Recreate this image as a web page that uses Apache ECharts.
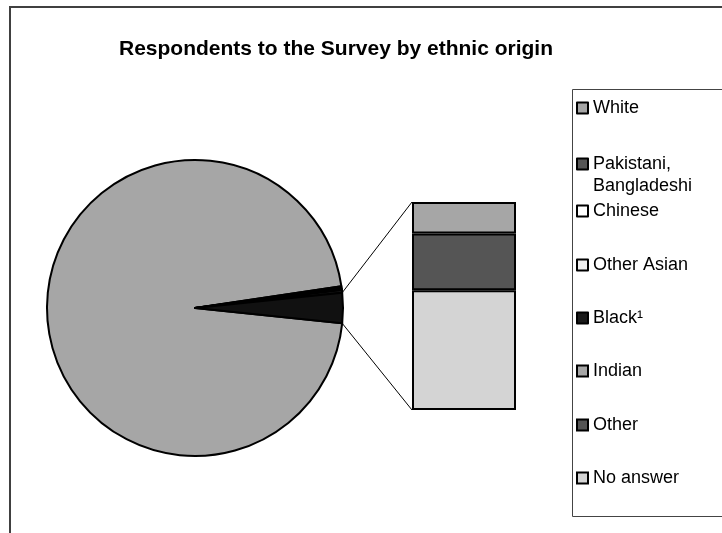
<!DOCTYPE html>
<html><head><meta charset="utf-8">
<script src="https://cdn.jsdelivr.net/npm/echarts@6/dist/echarts.min.js"></script>
<style>html,body{margin:0;padding:0;background:#fff}#c{width:722px;height:533px}</style>
</head><body><div id="c"></div>
<script>
// ---- data ----
const titleText = 'Respondents to the Survey by ethnic origin';
const pieNames = ['White', 'Pakistani,\nBangladeshi', 'Chinese', 'Other Asian', 'Black¹'];
const pieValues = [96.0, 0.2, 0.1, 0.1, 0.3];
const barNames = ['Indian', 'Other', 'No answer'];
const barValues = [0.5, 0.9, 1.9];
const combinedName = 'Other (combined)';

// ---- styles / layout ----
const pieColors = ['#a6a6a6', '#555555', '#ffffff', '#f0f0f0', '#1a1a1a'];
const barColors = ['#a6a6a6', '#555555', '#d4d4d4'];
const combinedColor = '#111111';
const legendCenters = [108, 164, 211, 265, 318, 371, 425, 478];
const legendLines = [1, 2, 1, 1, 1, 1, 1, 1];
const LH = 22;
const FONT = 'Liberation Sans, Arial, sans-serif';

const combinedValue = barValues.reduce((a, b) => a + b, 0);
const total = pieValues.reduce((a, b) => a + b, 0) + combinedValue;
const startAngle = -(combinedValue / total) * 180;

const pieData = pieNames.map((n, i) => ({ name: n, value: pieValues[i], itemStyle: { color: pieColors[i] } }));
pieData.push({ name: combinedName, value: combinedValue, itemStyle: { color: combinedColor } });

const legendNames = pieNames.concat(barNames);
const legends = legendNames.map((n, i) => {
  const multi = legendLines[i] > 1;
  return {
    data: [n],
    orient: 'vertical',
    left: 576,
    top: multi ? legendCenters[i] - 1.5 * LH : legendCenters[i] - LH / 2,
    padding: 0,
    itemWidth: 11,
    itemHeight: 11,
    itemGap: 0,
    icon: 'rect',
    selectedMode: false,
    formatter: multi ? (name => '\u00a0\n' + name) : '{name}',
    itemStyle: { borderColor: '#000', borderWidth: 2 },
    textStyle: { fontFamily: FONT, fontSize: 18, color: '#000', lineHeight: LH }
  };
});

// bar series stacked bottom-to-top: No answer, Other, Indian
const barSeries = [];
for (let i = barNames.length - 1; i >= 0; i--) {
  barSeries.push({
    type: 'bar', name: barNames[i], stack: 'grp', barWidth: '100%',
    data: [barValues[i]],
    itemStyle: { color: barColors[i], borderColor: '#000', borderWidth: 2 },
    silent: true
  });
}

const chart = echarts.init(document.getElementById('c'), null, { renderer: 'canvas' });
chart.setOption({
  animation: false,
  backgroundColor: '#fff',
  title: {
    text: titleText, left: 331, top: 34, textAlign: 'center',
    textStyle: { fontFamily: FONT, fontSize: 21, fontWeight: 'bold', color: '#000' }
  },
  legend: legends,
  grid: { left: 412, top: 202, width: 104, height: 208 },
  xAxis: { type: 'category', data: ['grp'], show: false },
  yAxis: { type: 'value', min: 0, max: combinedValue, show: false },
  series: [{
    type: 'pie',
    center: [195, 308],
    radius: 148,
    startAngle: startAngle,
    clockwise: true,
    label: { show: false },
    labelLine: { show: false },
    itemStyle: { borderColor: '#000', borderWidth: 2 },
    emphasis: { disabled: true },
    silent: true,
    data: pieData
  }].concat(barSeries),
  graphic: [
    { id: 'frame', type: 'rect', shape: { x: 10, y: 7, width: 800, height: 600 },
      style: { fill: null, stroke: '#404040', lineWidth: 2 }, z: -10 },
    { id: 'legbox', type: 'rect', shape: { x: 572.5, y: 89.5, width: 300, height: 427 },
      style: { fill: null, stroke: '#444', lineWidth: 1 }, z: -5 }
  ]
});

// connector lines derived from the library's layouts
const model = chart.getModel();
const pieSeries = model.getSeriesByIndex(0);
const pd = pieSeries.getData();
const lay = pd.getItemLayout(pd.count() - 1);
const topBar = model.getSeriesByIndex(barSeries.length).getData().getItemLayout(0); // Indian (top)
const botBar = model.getSeriesByIndex(1).getData().getItemLayout(0); // No answer (bottom)
const aTop = Math.max(lay.startAngle, lay.endAngle);
const aBot = Math.min(lay.startAngle, lay.endAngle);
const pUpper = [lay.cx + lay.r * Math.cos(aBot), lay.cy + lay.r * Math.sin(aBot)];
const pLower = [lay.cx + lay.r * Math.cos(aTop), lay.cy + lay.r * Math.sin(aTop)];
const barLeft = Math.min(topBar.x, topBar.x + topBar.width);
const barTopY = Math.min(topBar.y, topBar.y + topBar.height);
const barBotY = Math.max(botBar.y, botBar.y + botBar.height);
chart.setOption({
  graphic: [
    { id: 'l1', type: 'line', shape: { x1: pUpper[0], y1: pUpper[1], x2: barLeft, y2: barTopY },
      style: { stroke: '#000', lineWidth: 1 }, z: 5 },
    { id: 'l2', type: 'line', shape: { x1: pLower[0], y1: pLower[1], x2: barLeft, y2: barBotY },
      style: { stroke: '#000', lineWidth: 1 }, z: 5 }
  ]
});
</script>
</body></html>
